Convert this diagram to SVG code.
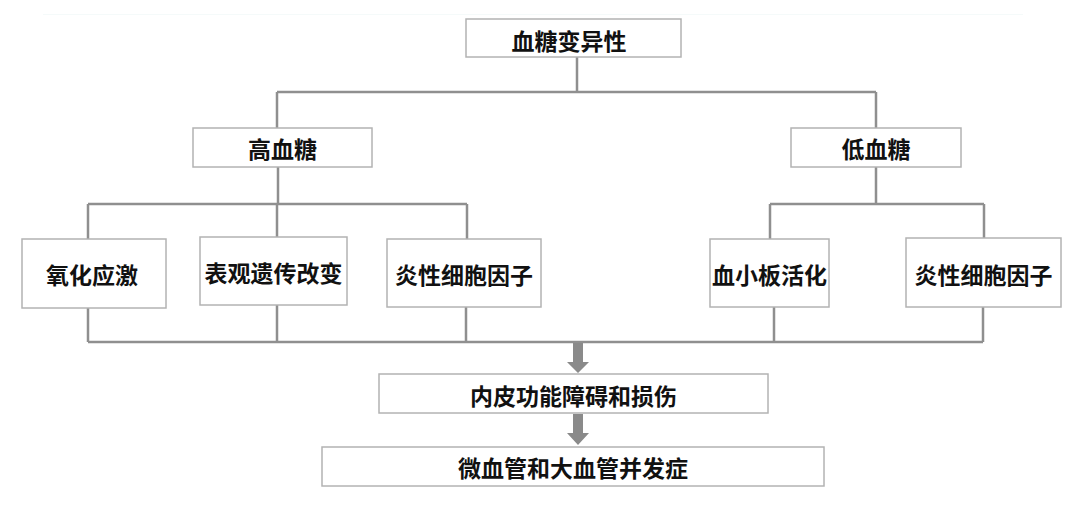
<svg xmlns="http://www.w3.org/2000/svg" width="1080" height="510" viewBox="0 0 1080 510">
<style>
.box{fill:#ffffff;stroke:#b3b3b3;stroke-width:1.5}
.t{font-family:"Noto Sans CJK SC","Noto Sans",sans-serif;font-size:23px;font-weight:700;fill:#111;text-anchor:middle;dominant-baseline:central}
.ln{fill:none;stroke:#8f8f8f;stroke-width:2.5}
.ar{fill:#8a8a8a}
</style>
<rect width="1080" height="510" fill="#ffffff"/>
<line x1="43" y1="14.5" x2="1023" y2="14.5" stroke="#f5fafa" stroke-width="1"/>
<g id="connectors">
<path class="ln" d="M577 57V92M277 92H876M277 92V128M876 92V128"/>
<path class="ln" d="M278 167V204M88 204H467M88 204V239M277 204V237M467 204V239"/>
<path class="ln" d="M876 167V204M770 204H984M770 204V239M984 204V238"/>
<path class="ln" d="M88 308V342M277 305V342M466 307V342M774 307V342M983 307V342M88 342H983"/>
<polygon class="ar" points="573,343 583,343 583,362 589,362 578,373 567,362 573,362"/>
<polygon class="ar" points="573,414 583,414 583,433 589,433 578,445 567,433 573,433"/>
</g>
<g id="n1"><rect class="box" x="466" y="19" width="215" height="38"/><text class="t" x="569" y="40">血糖变异性</text></g>
<g id="n2"><rect class="box" x="193" y="128" width="179" height="39"/><text class="t" x="282.5" y="148">高血糖</text></g>
<g id="n3"><rect class="box" x="791" y="128" width="170" height="39"/><text class="t" x="876" y="148">低血糖</text></g>
<g id="n4"><rect class="box" x="22" y="239" width="144" height="69"/><text class="t" x="92" y="274">氧化应激</text></g>
<g id="n5"><rect class="box" x="200" y="237" width="147" height="68"/><text class="t" x="273.5" y="272">表观遗传改变</text></g>
<g id="n6"><rect class="box" x="387" y="239" width="154" height="68"/><text class="t" x="464" y="274">炎性细胞因子</text></g>
<g id="n7"><rect class="box" x="710" y="239" width="119" height="68"/><text class="t" x="769.5" y="274">血小板活化</text></g>
<g id="n8"><rect class="box" x="906" y="238" width="155" height="69"/><text class="t" x="983.5" y="274">炎性细胞因子</text></g>
<g id="n9"><rect class="box" x="379" y="374" width="389" height="39"/><text class="t" x="573.5" y="395">内皮功能障碍和损伤</text></g>
<g id="n10"><rect class="box" x="322" y="447" width="502" height="39"/><text class="t" x="573" y="467">微血管和大血管并发症</text></g>
</svg>
